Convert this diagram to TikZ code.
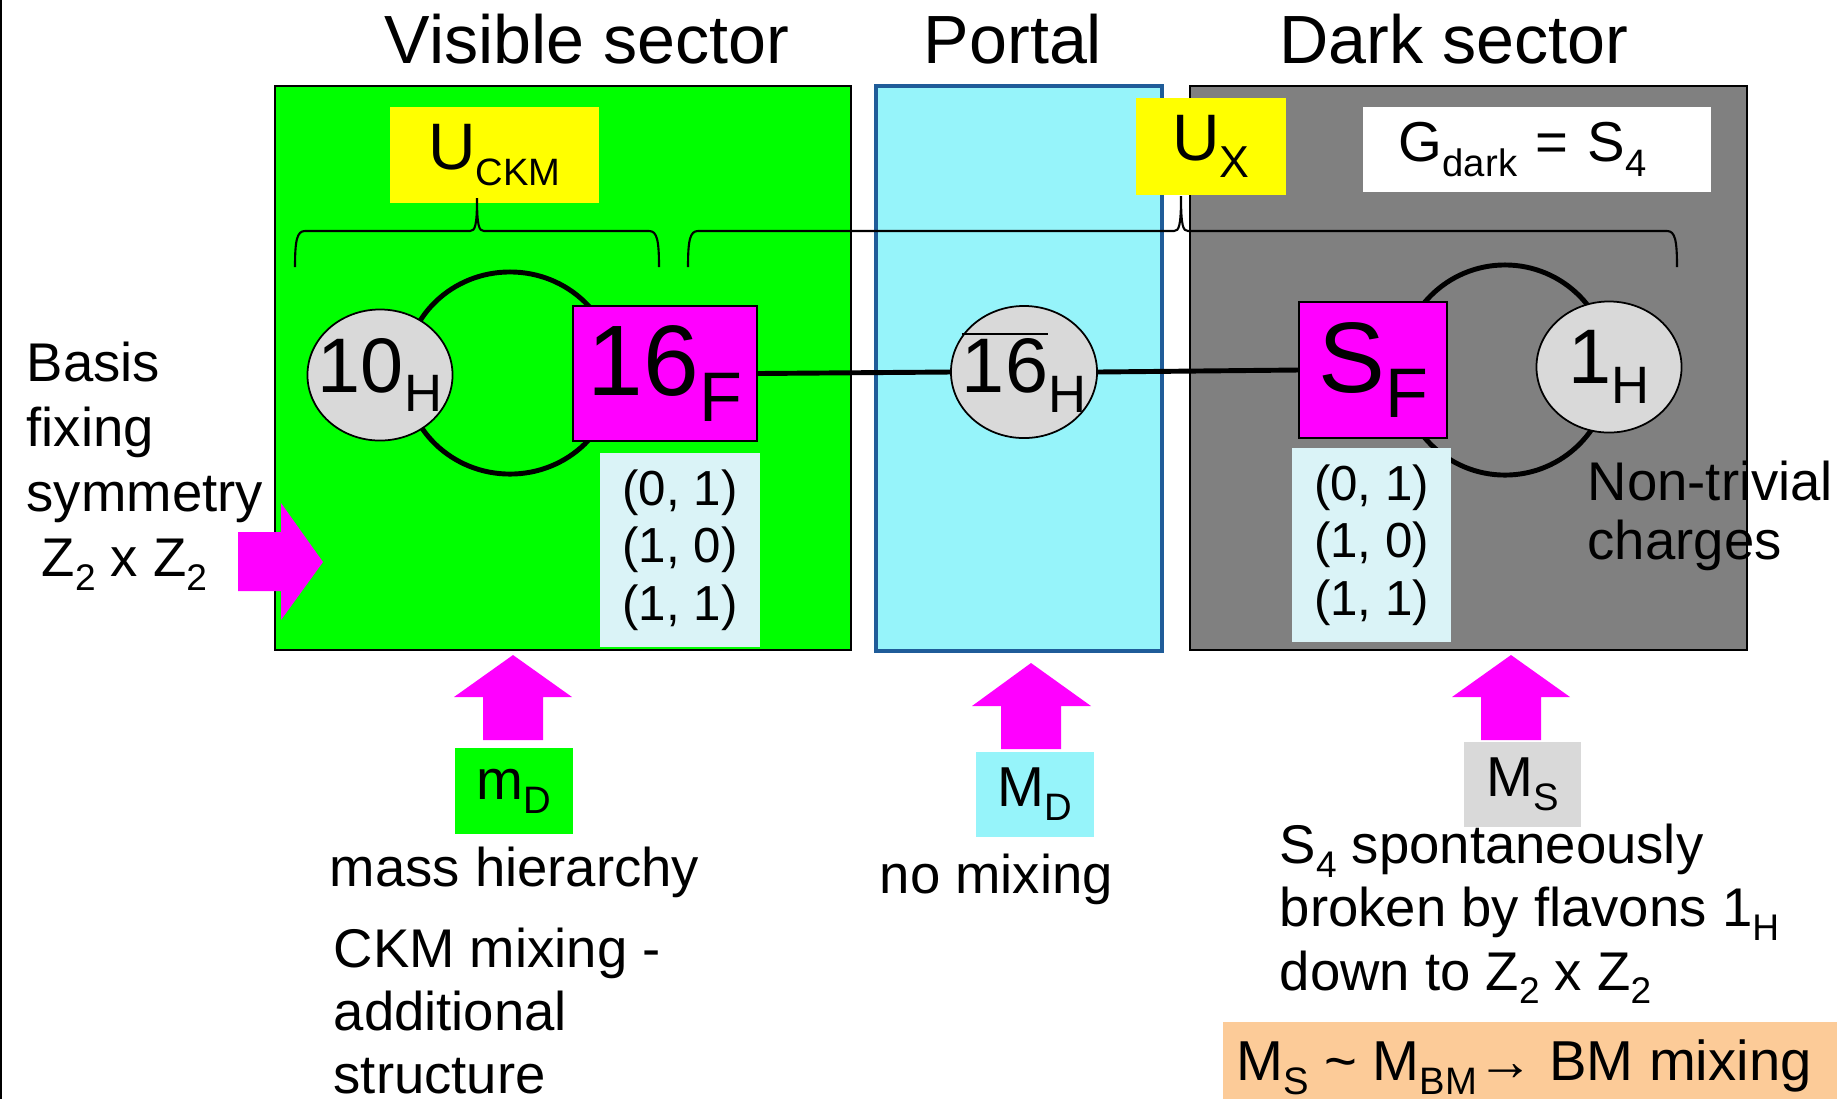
\documentclass[tikz,border=0pt]{standalone}
\usepackage{fontspec}
\setmainfont{Liberation Sans}
\usepackage{graphicx}
\usetikzlibrary{shapes.geometric}
\definecolor{vgreen}{HTML}{00FF00}
\definecolor{pcyan}{HTML}{96F4FA}
\definecolor{pblue}{HTML}{1F5C99}
\definecolor{dgray}{HTML}{808080}
\definecolor{lgray}{HTML}{D9D9D9}
\definecolor{mag}{HTML}{FF00FF}
\definecolor{yel}{HTML}{FFFF00}
\definecolor{chgcol}{HTML}{DAF3F7}
\definecolor{peach}{HTML}{FCCB98}
\newcommand\dn[2][0.68]{\raisebox{-0.25em}{\scalebox{#1}{#2}}}
\tikzset{
  ttl/.style={inner sep=0pt, font=\fontsize{19.4}{23}\selectfont},
  body/.style={inner sep=0pt, align=left, font=\fontsize{15.5}{18.3}\selectfont},
  ell/.style={ellipse, draw=black, line width=0.5pt, fill=lgray, inner sep=0pt, minimum width=1.45cm, minimum height=1.31cm},
  ellfont/.style={inner sep=0pt, font=\fontsize{22}{26}\selectfont},
  magbox/.style={rectangle, draw=black, line width=0.5pt, fill=mag, inner sep=0pt, font=\fontsize{28.5}{32}\selectfont},
  ybox/.style={rectangle, fill=yel, inner sep=0pt, font=\fontsize{18.7}{22}\selectfont},
  chgbox/.style={rectangle, fill=chgcol, inner sep=0pt, align=center, font=\fontsize{14}{16.4}\selectfont, minimum width=1.6cm, minimum height=1.94cm},
  massbox/.style={rectangle, inner sep=0pt, font=\fontsize{16}{19}\selectfont, minimum width=1.18cm, minimum height=0.85cm},
  bigarrow/.style={fill=mag},
  ringline/.style={line width=1.4pt},
  conn/.style={line width=1.4pt},
  bracel/.style={line width=0.6pt},
}
\begin{document}
\begin{tikzpicture}[x=0.01cm, y=-0.01cm]
\useasboundingbox (0,0) rectangle (1843,1099);
\fill[white] (0,0) rectangle (1843,1099);
\draw[line width=0.6pt] (1,0) -- (1,1099);

% sector boxes
\filldraw[fill=vgreen, draw=black, line width=0.6pt] (275,86) rectangle (851,650);
\filldraw[fill=pcyan, draw=pblue, line width=1.2pt] (876,86) rectangle (1162,651);
\filldraw[fill=dgray, draw=black, line width=0.6pt] (1190,86) rectangle (1747,650);

% titles
\node[ttl] (tvis) at (587,39) {Visible sector};
\node[ttl] (tpor) at (1013,39) {Portal};
\node[ttl] (tdark) at (1454,39) {Dark sector};

% loops
\draw[ringline] (510,373) ellipse[x radius=1.05cm, y radius=1.01cm];
\draw[ringline] (1505,370) circle[radius=1.05cm];

% labels in boxes
\node[ybox, minimum width=2.09cm, minimum height=0.96cm] (uckm) at (494.5,155) {U\dn[0.58]{CKM}};
\node[ybox, minimum width=1.50cm, minimum height=0.97cm] (ux) at (1211,146.5) {U\dn{X}};
\node[rectangle, fill=white, inner sep=0pt, minimum height=0.85cm, text width=2.76cm, inner xsep=0.36cm, align=left, font=\fontsize{16}{19}\selectfont] (gdark) at (1537,149.5) {G\dn{dark} = S\dn{4}};

% braces
\draw[bracel] (295,267) .. controls (295,240) and (297,231) .. (305,231) -- (470,231)
  .. controls (475,231) and (477,226) .. (477,198)
  .. controls (477,226) and (479,231) .. (484,231) -- (649,231)
  .. controls (657,231) and (659,240) .. (659,267);
\draw[bracel] (688,267) .. controls (688,240) and (690,231) .. (698,231) -- (1174,231)
  .. controls (1179,231) and (1181,226) .. (1181,196)
  .. controls (1181,226) and (1183,231) .. (1188,231) -- (1667,231)
  .. controls (1675,231) and (1677,240) .. (1677,267);

% field nodes
\node[ell, label={[ellfont]center:10\dn{H}}] (h10) at (380,375) {};
\node[magbox, minimum width=1.84cm, minimum height=1.35cm] (f16) at (665,373.5) {16\dn[0.7]{F}};
\node[ell, minimum width=1.46cm, minimum height=1.32cm, label={[ellfont]center:$\overline{\mbox{16}}$\dn{H}}] (h16) at (1024,372) {};
\node[magbox, minimum width=1.48cm, minimum height=1.36cm] (sf) at (1373,370) {S\dn[0.7]{F}};
\node[ell, label={[ellfont]center:1\dn{H}}] (h1) at (1609,367) {};

% connectors
\draw[conn] (f16.east) -- (h16.west);
\draw[conn] (h16.east) -- (sf.west);

% charges
\node[chgbox] (chl) at (680,550) {(0, 1)\\(1, 0)\\(1, 1)};
\node[chgbox, minimum width=1.59cm] (chr) at (1371.5,545) {(0, 1)\\(1, 0)\\(1, 1)};

\node[body, anchor=west, font=\fontsize{15.5}{16.8}\selectfont] (ntc) at (1587,516) {Non-trivial\\charges};

% left text and arrow
\node[body, anchor=west, font=\fontsize{15.5}{18.5}\selectfont] (basis) at (26,466) {Basis\\fixing\\symmetry\\\hspace*{0.15cm}Z\dn{2} x Z\dn{2}};
\fill[bigarrow] (238,532) -- (281,532) -- (281,503) -- (323,562) -- (281,620) -- (281,591) -- (238,591) -- cycle;

% bottom arrows
\fill[bigarrow] (483,740) -- (483,697) -- (454,697) -- (513,655) -- (572,697) -- (543,697) -- (543,740) -- cycle;
\fill[bigarrow] (1001,749) -- (1001,706) -- (972,706) -- (1031,663) -- (1091,706) -- (1061,706) -- (1061,749) -- cycle;
\fill[bigarrow] (1481,740) -- (1481,697) -- (1452,697) -- (1511,655) -- (1570,697) -- (1541,697) -- (1541,740) -- cycle;

% mass boxes
\node[massbox, fill=vgreen] (md) at (514,791) {m\dn{D}};
\node[massbox, fill=pcyan] (bmd) at (1035,794.5) {M\dn{D}};
\node[massbox, fill=lgray, minimum width=1.17cm] (ms) at (1522.5,784.5) {M\dn{S}};

% bottom texts
\node[body, anchor=west] (mh) at (329,872) {mass hierarchy};
\node[body, anchor=west, font=\fontsize{15.5}{17.9}\selectfont] (ckm) at (333,1011) {CKM mixing -\\additional\\structure};
\node[body, anchor=west] (nomix) at (879,879) {no mixing};
\node[body, anchor=west, font=\fontsize{15.5}{18}\selectfont] (s4) at (1279,914) {S\dn{4} spontaneously\\broken by flavons 1\dn{H}\\down to Z\dn{2} x Z\dn{2}};

% orange box
\fill[peach] (1223,1022) rectangle (1837,1099);
\node[inner sep=0pt, font=\fontsize{16}{19}\selectfont] (bm) at (1524,1067) {M\dn{S} \textasciitilde{} M\dn{BM}→ BM mixing};
\end{tikzpicture}
\end{document}
